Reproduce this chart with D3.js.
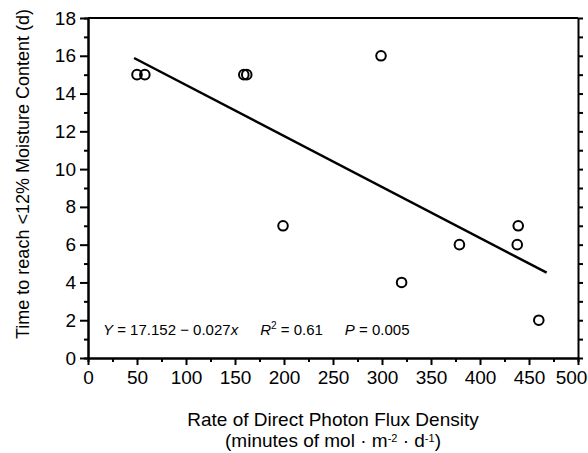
<!DOCTYPE html>
<html>
<head>
<meta charset="utf-8">
<script src="https://cdn.jsdelivr.net/npm/d3@7"></script>
<style>
  body { margin: 0; background: #fff; }
  svg { font-family: "Liberation Sans", Arial, Helvetica, sans-serif; }
</style>
</head>
<body>
<svg id="chart"></svg>
<script>
// photon flux rate (x) vs days to reach <12% moisture (y)
const fluxRate = [50, 58, 159, 162, 199, 299, 320, 379, 438, 439, 460]
const daysToDry = [15, 15, 15, 15, 7, 16, 4, 6, 6, 7, 2]
const xTicks = [0, 50, 100, 150, 200, 250, 300, 350, 400, 450, 500]
const yTicks = [0, 2, 4, 6, 8, 10, 12, 14, 16, 18]
// regression Y = 17.152 - 0.027x, drawn over the data range
const fitIntercept = 17.152
const fitSlope = -0.027
const fitRange = [47, 468]

const width = 588, height = 453
const margin = { top: 18, right: 10, bottom: 95, left: 88 }

const svg = d3.select('#chart')
  .attr('width', width)
  .attr('height', height)

const x = d3.scaleLinear().domain([0, 500]).range([margin.left, width - margin.right])
const y = d3.scaleLinear().domain([0, 18]).range([height - margin.bottom, margin.top])

const x0 = x(0), x1 = x(500), y0 = y(0), y1 = y(18)

// frame (top line plain)
svg.append('line')
  .attr('x1', x0).attr('x2', x1).attr('y1', y1).attr('y2', y1)
  .attr('stroke', '#000').attr('stroke-width', 2)

// bottom axis, majors every 50, minors every 25
const bottom = svg.append('g').attr('transform', 'translate(0,' + y0 + ')')
bottom.call(d3.axisBottom(x).tickValues(xTicks).tickSize(7).tickPadding(6).tickSizeOuter(0))
bottom.append('g').call(d3.axisBottom(x).tickValues(d3.range(25, 500, 50)).tickSize(4).tickFormat(''))
// last label sits a little left so it stays on the page
bottom.selectAll('.tick text').filter(d => d === 500).attr('dx', -7)

// left axis, majors every 2, minors every 1
const left = svg.append('g').attr('transform', 'translate(' + x0 + ',0)')
left.call(d3.axisLeft(y).tickValues(yTicks).tickSize(8).tickPadding(4).tickSizeOuter(0))
left.append('g').call(d3.axisLeft(y).tickValues(d3.range(1, 18, 2)).tickSize(4).tickFormat(''))

// right axis, ticks only
const right = svg.append('g').attr('transform', 'translate(' + x1 + ',0)')
right.call(d3.axisRight(y).tickValues(d3.range(0, 19, 1)).tickSize(5).tickFormat('').tickSizeOuter(0))

svg.selectAll('.domain').attr('stroke-width', 2)
svg.selectAll('.tick line').attr('stroke-width', 2)
svg.selectAll('.tick text').attr('font-size', 19).attr('fill', '#000')

// regression line
svg.append('line')
  .attr('x1', x(fitRange[0])).attr('y1', y(fitIntercept + fitSlope * fitRange[0]))
  .attr('x2', x(fitRange[1])).attr('y2', y(fitIntercept + fitSlope * fitRange[1]))
  .attr('stroke', '#000').attr('stroke-width', 2.5)

// points
svg.append('g')
  .selectAll('circle')
  .data(fluxRate.map((d, i) => [d, daysToDry[i]]))
  .join('circle')
  .attr('cx', d => x(d[0]))
  .attr('cy', d => y(d[1]))
  .attr('r', 4.8)
  .attr('fill', 'none')
  .attr('stroke', '#000')
  .attr('stroke-width', 2)

// equation annotation
const eq = svg.append('text')
  .attr('x', 103).attr('y', 335)
  .attr('font-size', 15)
eq.append('tspan').attr('font-style', 'italic').text('Y')
eq.append('tspan').text(' = 17.152 \u2212 0.027')
eq.append('tspan').attr('font-style', 'italic').text('x')
eq.append('tspan').attr('dx', 22).attr('font-style', 'italic').text('R')
eq.append('tspan').attr('font-size', 10).attr('dy', -6).text('2')
eq.append('tspan').attr('dy', 6).text(' = 0.61')
eq.append('tspan').attr('dx', 22).attr('font-style', 'italic').text('P')
eq.append('tspan').text(' = 0.005')

// axis titles
const cx = (x0 + x1) / 2
svg.append('text')
  .attr('x', cx).attr('y', 426)
  .attr('text-anchor', 'middle').attr('font-size', 19)
  .text('Rate of Direct Photon Flux Density')

const sub = svg.append('text')
  .attr('x', cx).attr('y', 447)
  .attr('text-anchor', 'middle').attr('font-size', 19)
sub.append('tspan').text('(minutes of mol \u00b7 m')
sub.append('tspan').attr('font-size', 11).attr('dy', -5).text('-2')
sub.append('tspan').attr('dy', 5).text(' \u00b7 d')
sub.append('tspan').attr('font-size', 11).attr('dy', -5).text('-1')
sub.append('tspan').attr('dy', 5).text(')')

svg.append('text')
  .attr('transform', 'translate(29,' + 174 + ') rotate(-90)')
  .attr('text-anchor', 'middle').attr('font-size', 18)
  .text('Time to reach <12% Moisture Content (d)')
</script>
</body>
</html>
